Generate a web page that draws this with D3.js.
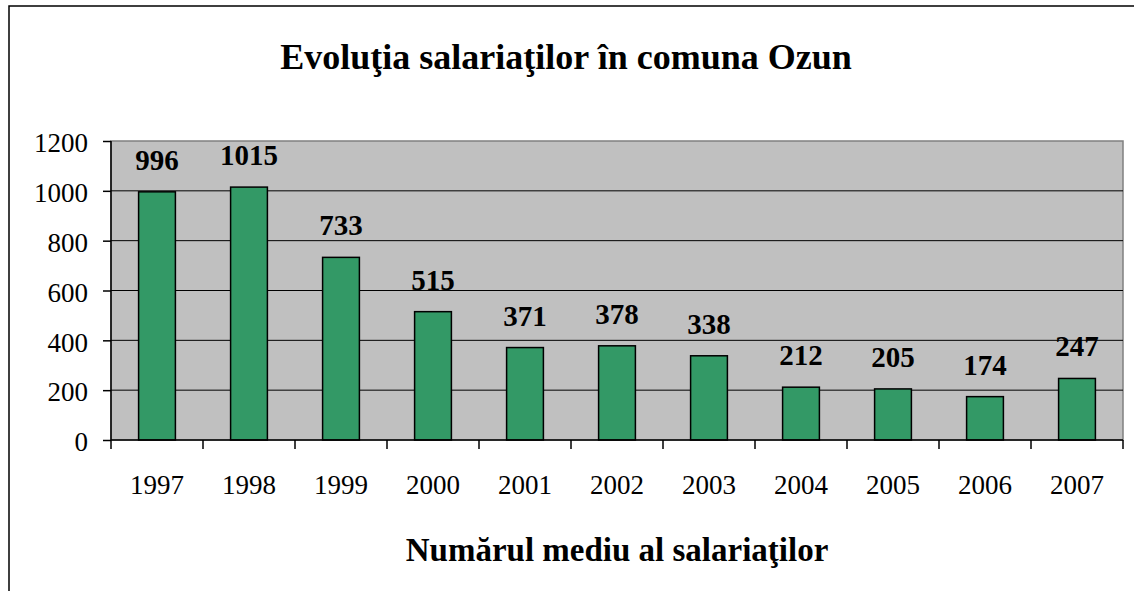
<!DOCTYPE html>
<html lang="ro">
<head>
<meta charset="UTF-8">
<title>Evoluţia salariaţilor</title>
<script src="https://cdn.jsdelivr.net/npm/d3@7"></script>
<style>
  body { margin: 0; background: #fff; }
  svg { display: block; font-family: "Liberation Serif", "Times New Roman", serif; }
</style>
</head>
<body>
<script>
    // date
    var years = ["1997","1998","1999","2000","2001","2002","2003","2004","2005","2006","2007"];
    var salariati = [996, 1015, 733, 515, 371, 378, 338, 212, 205, 174, 247];
    var yTicks = [0, 200, 400, 600, 800, 1000, 1200];

    var W = 1134, H = 591;
    var pLeft = 111, pRight = 1123, pTop = 141, pBottom = 440;

    var svg = d3.select("body").append("svg")
        .attr("width", W)
        .attr("height", H);

    // chenarul exterior
    svg.append("path")
        .attr("d", "M9," + H + "V6H" + W)
        .attr("fill", "none")
        .attr("stroke", "#000")
        .attr("stroke-width", 1.5);

    svg.append("text")
        .attr("x", 566).attr("y", 69)
        .attr("text-anchor", "middle")
        .attr("font-weight", "bold")
        .attr("font-size", "36px")
        .text("Evoluţia salariaţilor în comuna Ozun");

    var x = d3.scaleBand().domain(years).range([pLeft, pRight])
        .paddingInner(0.6).paddingOuter(0.3);
    var y = d3.scaleLinear().domain([0, 1200]).range([pBottom, pTop]);

    // fundalul zonei de desen
    svg.append("rect")
        .attr("x", pLeft).attr("y", pTop)
        .attr("width", pRight - pLeft).attr("height", pBottom - pTop)
        .attr("fill", "#c0c0c0")
        .attr("stroke", "#808080")
        .attr("stroke-width", 1.5);

    // linii de grila
    svg.append("g").selectAll("line")
        .data(yTicks.filter(function(d){ return d > 0 && d < 1200; }))
        .enter().append("line")
        .attr("x1", pLeft).attr("x2", pRight)
        .attr("y1", function(d){ return y(d); })
        .attr("y2", function(d){ return y(d); })
        .attr("stroke", "#000")
        .attr("stroke-width", 1);

    svg.append("g").selectAll("rect")
        .data(salariati)
        .enter().append("rect")
        .attr("x", function(d, i){ return x(years[i]); })
        .attr("width", x.bandwidth())
        .attr("y", function(d){ return y(d); })
        .attr("height", function(d){ return y(0) - y(d); })
        .attr("fill", "#339966")
        .attr("stroke", "#000")
        .attr("stroke-width", 1.5);

    svg.append("g").selectAll("text")
        .data(salariati)
        .enter().append("text")
        .attr("x", function(d, i){ return x(years[i]) + x.bandwidth() / 2; })
        .attr("y", function(d){ return y(d) - 22; })
        .attr("text-anchor", "middle")
        .attr("font-weight", "bold")
        .attr("font-size", "29px")
        .text(function(d){ return d; });

    // axa Y
    var yAxis = svg.append("g")
        .attr("transform", "translate(" + pLeft + ",0)")
        .call(d3.axisLeft(y).tickValues(yTicks).tickFormat(d3.format("d")).tickSize(8).tickPadding(15));
    yAxis.select(".domain").attr("stroke", "#000").attr("stroke-width", 1.5)
        .attr("d", "M0," + pTop + "V" + pBottom);
    yAxis.selectAll(".tick line").attr("stroke-width", 1.5);
    yAxis.selectAll("text")
        .attr("font-size", "27px")
        .attr("dy", "0.4em")
        .attr("font-family", "'Liberation Serif', 'Times New Roman', serif")
        .attr("fill", "#000");

    // axa X - semne intre categorii
    var step = x.step();
    var edges = d3.range(years.length + 1).map(function(i){ return pLeft + i * step; });
    svg.append("line")
        .attr("x1", pLeft).attr("x2", pRight)
        .attr("y1", pBottom).attr("y2", pBottom)
        .attr("stroke", "#000").attr("stroke-width", 1.5);
    svg.append("g").selectAll("line")
        .data(edges)
        .enter().append("line")
        .attr("x1", function(d){ return d; }).attr("x2", function(d){ return d; })
        .attr("y1", pBottom).attr("y2", pBottom + 9)
        .attr("stroke", "#000").attr("stroke-width", 1.5);
    svg.append("g").selectAll("text")
        .data(years)
        .enter().append("text")
        .attr("x", function(d){ return x(d) + x.bandwidth() / 2; })
        .attr("y", 494)
        .attr("text-anchor", "middle")
        .attr("font-size", "27px")
        .text(function(d){ return d; });

    svg.append("text")
        .attr("x", 617).attr("y", 561)
        .attr("text-anchor", "middle")
        .attr("font-weight", "bold")
        .attr("font-size", "33px")
        .text("Numărul mediu al salariaţilor");
</script>
</body>
</html>
